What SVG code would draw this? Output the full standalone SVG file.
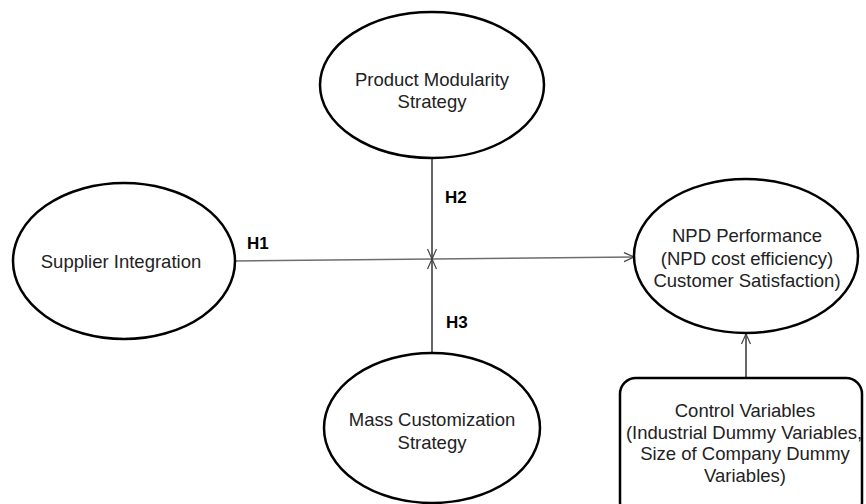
<svg xmlns="http://www.w3.org/2000/svg" width="866" height="504" viewBox="0 0 866 504">
  <style>
    .node { fill: #ffffff; stroke: #000000; stroke-width: 2.5; }
    .label { font-family: "Liberation Sans", Arial, sans-serif; font-size: 18.5px; fill: #222222; text-anchor: middle; dominant-baseline: central; }
    .hyp { font-family: "Liberation Sans", Arial, sans-serif; font-size: 17px; font-weight: bold; fill: #000000; dominant-baseline: central; }
    .link { fill: none; stroke: #000000; stroke-width: 1.2; }
    .link-grey { fill: none; stroke: #6e6e6e; stroke-width: 1.6; }
  </style>
  <defs>
    <marker id="open-arrow" viewBox="0 0 12 12" refX="11" refY="6" markerWidth="12" markerHeight="12" markerUnits="userSpaceOnUse" orient="auto">
      <path d="M1,1.5 L11,6 L1,10.5" fill="none" stroke="#444444" stroke-width="1.2"/>
    </marker>
  </defs>

  <!-- connectors -->
  <g id="connectors">
    <line class="link-grey" x1="235" y1="261" x2="634" y2="257" marker-end="url(#open-arrow)"/>
    <line class="link" x1="432" y1="158" x2="432" y2="259" marker-end="url(#open-arrow)"/>
    <line class="link" x1="432" y1="352" x2="432" y2="259" marker-end="url(#open-arrow)"/>
    <line class="link" x1="746" y1="378" x2="746" y2="334" marker-end="url(#open-arrow)"/>
    <text class="hyp" x="247" y="243">H1</text>
    <text class="hyp" x="445" y="197">H2</text>
    <text class="hyp" x="446" y="322">H3</text>
  </g>

  <g id="product-modularity">
    <ellipse class="node" cx="432" cy="85" rx="112" ry="73"/>
    <text class="label" x="432" y="79">Product Modularity</text>
    <text class="label" x="432" y="101">Strategy</text>
  </g>

  <g id="supplier-integration">
    <ellipse class="node" cx="124" cy="261" rx="111" ry="78"/>
    <text class="label" x="121" y="261">Supplier Integration</text>
  </g>

  <g id="npd-performance">
    <ellipse class="node" cx="746" cy="256" rx="112" ry="77"/>
    <text class="label" x="747" y="235">NPD Performance</text>
    <text class="label" x="747" y="258">(NPD cost efficiency)</text>
    <text class="label" x="747" y="280">Customer Satisfaction)</text>
  </g>

  <g id="mass-customization">
    <ellipse class="node" cx="432" cy="428" rx="108" ry="75"/>
    <text class="label" x="432" y="419">Mass Customization</text>
    <text class="label" x="432" y="442">Strategy</text>
  </g>

  <g id="control-variables">
    <rect class="node" x="620" y="378" width="242" height="140" rx="16" ry="16"/>
    <text class="label" x="745" y="410">Control Variables</text>
    <text class="label" x="744" y="432">(Industrial Dummy Variables,</text>
    <text class="label" x="745" y="453">Size of Company Dummy</text>
    <text class="label" x="745" y="475">Variables)</text>
  </g>
</svg>
